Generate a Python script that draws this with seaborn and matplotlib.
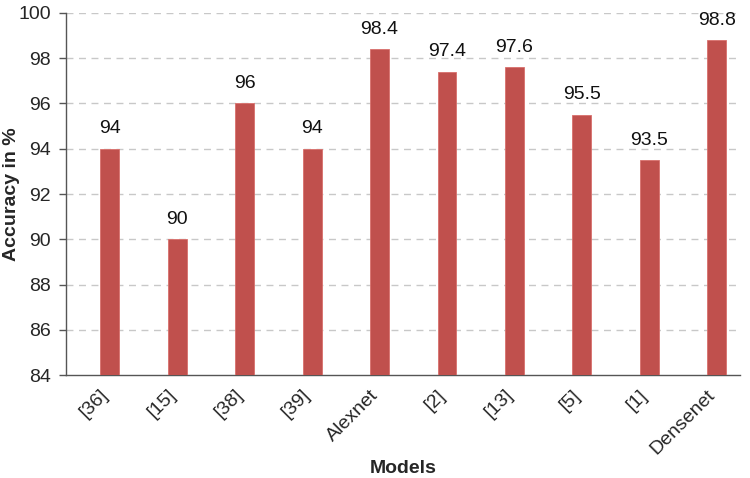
import matplotlib
matplotlib.use("Agg")
import matplotlib.pyplot as plt
import seaborn as sns
import pandas as pd

models = ["[36]", "[15]", "[38]", "[39]", "Alexnet", "[2]", "[13]", "[5]", "[1]", "Densenet"]
accuracy = [94, 90, 96, 94, 98.4, 97.4, 97.6, 95.5, 93.5, 98.8]
value_labels = ["94", "90", "96", "94", "98.4", "97.4", "97.6", "95.5", "93.5", "98.8"]
yticks = [84, 86, 88, 90, 92, 94, 96, 98, 100]

sns.set_theme(style="white")
plt.rcParams['font.family'] = ['Liberation Sans', 'DejaVu Sans']

df = pd.DataFrame({"Models": models, "Accuracy": accuracy})

fig = plt.figure(figsize=(7.5, 4.78), dpi=100)
ax = fig.add_axes([0.088, 0.215, 0.899, 0.758])

sns.barplot(data=df, x="Models", y="Accuracy", ax=ax, color="#C0504D",
            saturation=1, width=0.28, edgecolor="#D9706C", linewidth=0.6, zorder=3)

# shift bars to the right half of each category (as in reference)
for p in ax.patches:
    p.set_x(p.get_x() + 0.15)

for p, lab in zip(ax.patches, value_labels):
    ax.text(p.get_x() + p.get_width() / 2, p.get_height() + 0.5, lab,
            ha="center", va="bottom", fontsize=14, color="#111111")

ax.set_ylim(84, 100)
ax.set_xlim(-0.5, len(models) - 0.5)
ax.set_yticks(yticks)
ax.set_yticklabels([str(t) for t in yticks], fontsize=14)
for t in yticks[1:]:
    ax.axhline(t, color="#C8C8C8", linestyle=(0, (5, 4)), linewidth=1, zorder=1)

ax.set_xticks(range(len(models)))
ax.set_xticklabels(models, rotation=45, ha="right", rotation_mode="anchor", fontsize=14)
# minor ticks between categories
ax.set_xticks([i - 0.5 for i in range(len(models) + 1)], minor=True)
ax.tick_params(axis="x", which="major", length=0, pad=8)
ax.tick_params(axis="x", which="minor", length=5, width=1, color="#555555", direction="out")
ax.tick_params(axis="y", length=5, width=1, color="#555555", direction="out", left=True, pad=6)

for s in ["top", "right"]:
    ax.spines[s].set_visible(False)
for s in ["left", "bottom"]:
    ax.spines[s].set_color("#555555")
    ax.spines[s].set_linewidth(1)

ax.set_xlabel("Models", fontsize=14, fontweight="bold")
ax.xaxis.set_label_coords(0.5, -0.235)
ax.set_ylabel("Accuracy in %", fontsize=14, fontweight="bold")
ax.yaxis.set_label_coords(-0.068, 0.5)

fig.savefig("out.png", dpi=100)
